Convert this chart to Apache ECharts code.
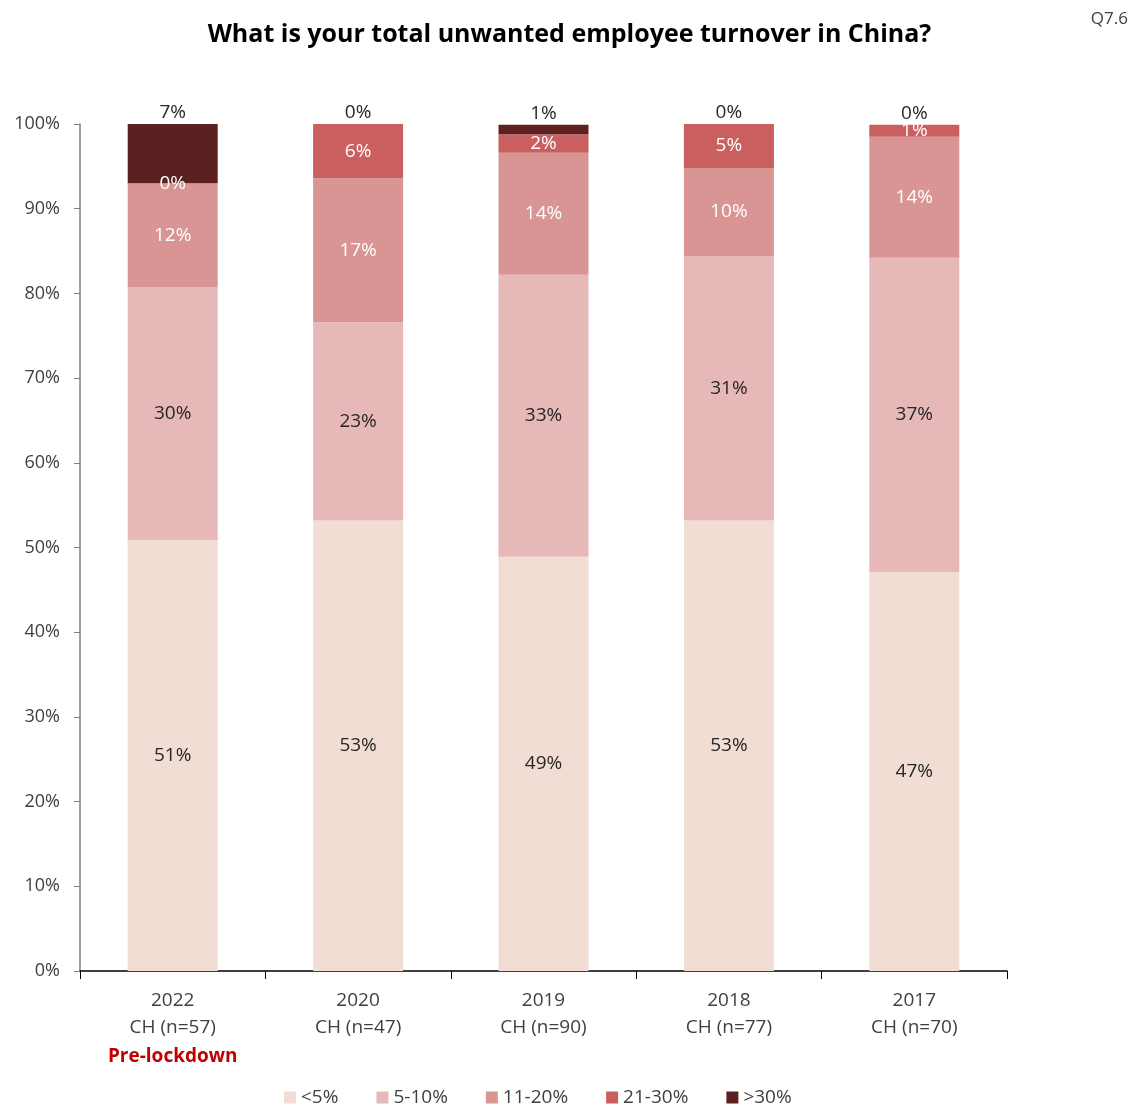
<!DOCTYPE html>
<html>
<head>
<meta charset="utf-8">
<script src="https://cdn.jsdelivr.net/npm/echarts@6/dist/echarts.min.js"></script>
<style>
  html, body { margin: 0; padding: 0; background: #fff; }
  #chart { width: 1139px; height: 1112px; }
</style>
</head>
<body>
<div id="chart"></div>
<script>
// Survey waves (x axis)
const years = ['2022', '2020', '2019', '2018', '2017'];
const sampleSizes = ['CH (n=57)', 'CH (n=47)', 'CH (n=90)', 'CH (n=77)', 'CH (n=70)'];
const notes = ['Pre-lockdown', '', '', '', ''];

// Share of respondents per turnover band (%)
const bandNames = ['<5%', '5-10%', '11-20%', '21-30%', '>30%'];
const under5 = [50.9, 53.2, 48.9, 53.2, 47.1];
const from5to10 = [29.8, 23.4, 33.3, 31.2, 37.1];
const from11to20 = [12.3, 17.0, 14.4, 10.4, 14.3];
const from21to30 = [0.0, 6.4, 2.2, 5.2, 1.4];
const over30 = [7.0, 0.0, 1.1, 0.0, 0.0];

const yTicks = [0, 10, 20, 30, 40, 50, 60, 70, 80, 90, 100];

const bandColors = ['#F2DDD4', '#E6B8B8', '#D99594', '#C95F5E', '#5C2020'];
const labelColors = ['#262626', '#262626', '#ffffff', '#ffffff', '#262626'];
const bandData = [under5, from5to10, from11to20, from21to30, over30];

const FONT = '"Open Sans", "Noto Sans", sans-serif';

const series = bandNames.map((name, i) => ({
  name: name,
  type: 'bar',
  stack: 'total',
  barWidth: 90,
  data: bandData[i],
  itemStyle: { color: bandColors[i] },
  label: {
    show: true,
    position: i === 4 ? 'top' : 'inside',
    distance: 2,
    color: labelColors[i],
    fontFamily: FONT,
    fontSize: 19,
    formatter: p => Math.round(p.value) + '%'
  }
}));

const chart = echarts.init(document.getElementById('chart'), null, { renderer: 'canvas' });
chart.setOption({
  animation: false,
  backgroundColor: '#ffffff',
  title: [
    {
      text: 'What is your total unwanted employee turnover in China?',
      left: 'center',
      top: 17,
      textStyle: { fontFamily: FONT, fontWeight: 'bold', fontSize: 25, color: '#000' }
    },
    {
      text: 'Q7.6',
      right: 6,
      top: 6,
      textStyle: { fontFamily: FONT, fontWeight: 'normal', fontSize: 17, color: '#404040' }
    }
  ],
  legend: {
    bottom: 0,
    left: 279,
    itemWidth: 12,
    itemHeight: 12,
    itemGap: 38,
    icon: 'rect',
    textStyle: { fontFamily: FONT, fontSize: 19, color: '#404040' },
    data: bandNames
  },
  grid: { left: 80, right: 132, top: 124, bottom: 141 },
  xAxis: {
    type: 'category',
    data: years,
    axisLine: { lineStyle: { color: '#000', width: 1.5 } },
    axisTick: { show: true, length: 8, lineStyle: { color: '#000' } },
    axisLabel: {
      margin: 16,
      lineHeight: 27,
      fontFamily: FONT,
      formatter: (val, idx) => {
        let s = '{y|' + val + '}\n{n|' + sampleSizes[idx] + '}';
        if (notes[idx]) s += '\n{note|' + notes[idx] + '}';
        return s;
      },
      rich: {
        y: { fontFamily: FONT, fontSize: 19, color: '#404040', lineHeight: 27 },
        n: { fontFamily: FONT, fontSize: 19, color: '#404040', lineHeight: 27 },
        note: { fontFamily: FONT, fontSize: 19, fontWeight: 'bold', color: '#C00000', lineHeight: 31 }
      }
    }
  },
  yAxis: {
    type: 'value',
    min: 0,
    max: 100,
    interval: 10,
    axisLine: { show: true, lineStyle: { color: '#7f7f7f', width: 1.5 } },
    axisTick: { show: true, length: 6, lineStyle: { color: '#7f7f7f' } },
    splitLine: { show: false },
    axisLabel: {
      margin: 20,
      fontFamily: FONT,
      fontSize: 18,
      color: '#404040',
      formatter: v => (yTicks.indexOf(v) >= 0 ? v + '%' : '')
    }
  },
  series: series
});
</script>
</body>
</html>
